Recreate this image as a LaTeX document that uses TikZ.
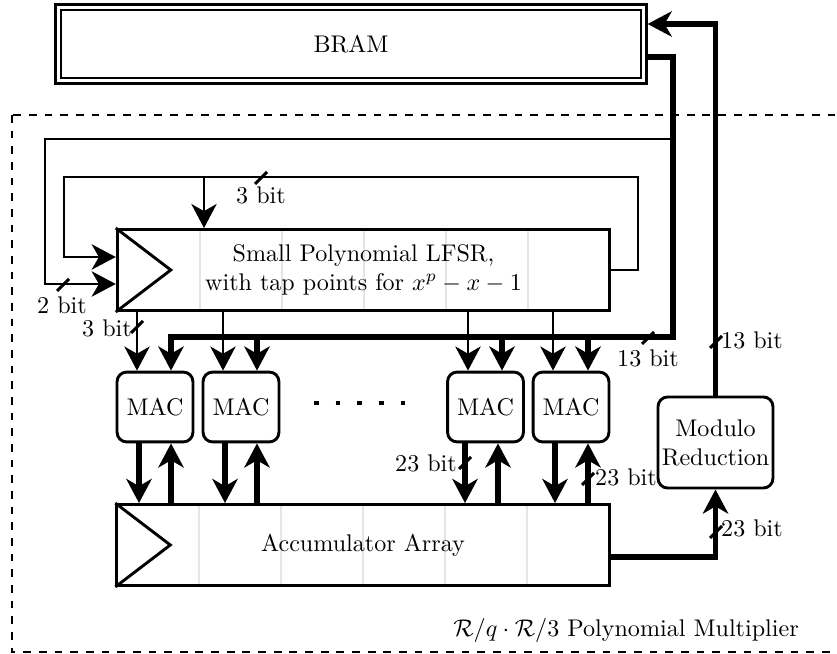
\documentclass[tikz,border=0pt]{standalone}
\usepackage{amsmath,amssymb}
\usetikzlibrary{arrows.meta,positioning,calc}
\pgfdeclarelayer{background}
\pgfsetlayers{background,main}
\newcommand{\busmark}[1]{\draw[sig] (#1) ++(-6,6) -- ++(12,-12);}

\begin{document}
\begin{tikzpicture}[x=0.415pt, y=-0.415pt,
    sig/.style={line width=1.2pt},
    bus/.style={line width=2.4pt},
    tip/.style={-{Stealth[length=10pt,width=10.5pt,inset=3pt]}},
    reg/.style={draw, line width=1.2pt, minimum width=204.4pt, minimum height=33.6pt, inner sep=0pt, align=center},
    mac/.style={draw, line width=1.2pt, rounded corners=4pt, minimum width=31.5pt, minimum height=29pt, inner sep=0pt, align=center},
    divider/.style={gray!20, line width=0.9pt}]
    \useasboundingbox (0,0) rectangle (837,654);
    % multiplier frame
    \draw[line width=1.1pt, dash pattern=on 3.2pt off 3.3pt] (12,115) rectangle (850,652);
    \node (title) at (626,630) {$\mathcal{R}/q \cdot \mathcal{R}/3$ Polynomial Multiplier};
    % memory and registers
    \node[draw, double, double distance=1.3pt, line width=1pt, outer sep=1.7pt, minimum width=242.8pt, minimum height=30.5pt] (bram) at (351,44) {BRAM};
    \node[reg] (lfsr) at (363.5,270) {Small Polynomial LFSR,\\with tap points for $x^p - x - 1$};
    \node[reg] (acc) at (363,545) {Accumulator Array};
    \foreach \r in {lfsr,acc} {
      \draw[line width=1.2pt] (\r.north west) -- ($(\r.west)+(55,0)$) -- (\r.south west);
      \begin{pgfonlayer}{background}
        \foreach \dx in {84,166,248,330,412}
          \draw[divider] ($(\r.north west)+(\dx,1.5)$) -- ($(\r.south west)+(\dx,-1.5)$);
      \end{pgfonlayer}
    }
    % MAC units
    \node[mac] (mac1) at (155,407) {MAC};
    \node[mac] (mac2) at (241,407) {MAC};
    \node[mac] (mac3) at (485.5,407) {MAC};
    \node[mac] (mac4) at (571,407) {MAC};
    \draw[line width=1.9pt, dash pattern=on 1.9pt off 7.1pt] (314,403) -- (406,403);
    \node[mac, minimum width=47.7pt, minimum height=37.8pt] (modred) at (715.5,442.5) {Modulo\\Reduction};
    % LFSR feedback
    \coordinate (fbR) at (638,177);
    \coordinate (fbL) at (64,177);
    \coordinate (fbT) at (204,177);
    \coordinate (fbO) at (45,139);
    \coordinate (busR) at (673,337);
    \draw[sig,tip] (lfsr.east) -| (fbR) -- (fbL) |- ($(lfsr.west)+(0,-13)$);
    \draw[sig,tip] (fbT) -- (fbT |- lfsr.north);
    \draw[sig,tip] (busR |- fbO) -- (fbO) |- ($(lfsr.west)+(0,14)$);
    % BRAM read bus
    \draw[bus,tip] ($(bram.east)+(0,13)$) -| (busR) -| ($(mac1.north)+(16,0)$);
    \foreach \m/\dx in {mac2/16,mac3/16.5,mac4/17} {
      \coordinate (b\m) at ($(\m.north)+(\dx,0)$);
      \draw[bus,tip] (b\m |- busR) -- (b\m);
    }
    % taps into the MACs
    \foreach \m/\dx in {mac1/-18,mac2/-18,mac3/-17.5,mac4/-18} {
      \coordinate (a\m) at ($(\m.north)+(\dx,0)$);
      \draw[sig,tip] (a\m |- lfsr.south) -- (a\m);
    }
    % MAC <-> accumulator
    \foreach \m/\dn/\up in {mac1/-16/16,mac2/-16/16,mac3/-20.5/12.5,mac4/-16/17} {
      \coordinate (d\m) at ($(\m.south)+(\dn,0)$);
      \coordinate (u\m) at ($(\m.south)+(\up,0)$);
      \draw[bus,tip] (d\m) -- (d\m |- acc.north);
      \draw[bus,tip] (u\m |- acc.north) -- (u\m);
    }
    % reduction and write back
    \draw[bus,tip] ($(acc.east)+(0,12)$) -| (modred.south);
    \draw[bus,tip] (modred.north) |- ($(bram.east)+(0,-20)$);
    % bit widths
    \busmark{261,178}
    \busmark{63,285}
    \busmark{137,327}
    \busmark{648,338}
    \busmark{716,342}
    \busmark{465,463}
    \busmark{588,479}
    \busmark{716,532}
    \node (w1) at (261,195) {3 bit};
    \node (w2) at (62,305) {2 bit};
    \node (w3) at (107,328) {3 bit};
    \node (w4) at (648,358) {13 bit};
    \node (w5) at (752,340) {13 bit};
    \node (w6) at (426,463) {23 bit};
    \node (w7) at (626,477) {23 bit};
    \node (w8) at (752,528) {23 bit};
  \end{tikzpicture}
\end{document}
